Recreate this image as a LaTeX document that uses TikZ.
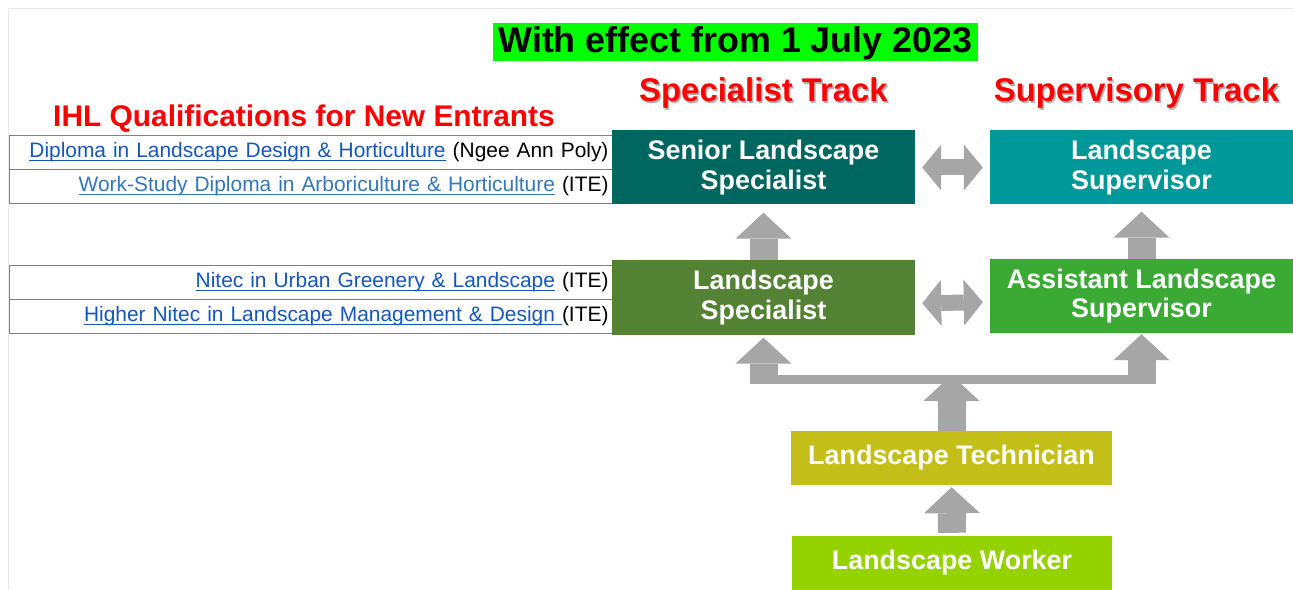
\documentclass[tikz,border=0pt]{standalone}
\usepackage{fontspec}
\setmainfont{Liberation Sans}
\usetikzlibrary{arrows.meta}

\definecolor{titlegreen}{RGB}{0,255,0}
\definecolor{trackred}{RGB}{255,0,0}
\definecolor{linkblue}{RGB}{20,88,190}
\definecolor{linkbluelight}{RGB}{52,120,186}
\definecolor{rowgray}{RGB}{128,128,128}
\definecolor{arrowgray}{RGB}{166,166,166}
\definecolor{slsteal}{RGB}{0,102,96}
\definecolor{lsupteal}{RGB}{0,152,152}
\definecolor{lspecgreen}{RGB}{84,130,53}
\definecolor{alsgreen}{RGB}{58,170,53}
\definecolor{techolive}{RGB}{196,190,24}
\definecolor{workergreen}{RGB}{148,210,0}

% underlined link text
\newcommand\lnk[2][linkblue]{{\color{#1}\setbox0\hbox{#2}\rlap{\rule[-3bp]{\wd0}{1.1bp}}\box0}}
% text with a soft shadow
\newcommand\shtext[1]{\rlap{\hspace{1.5bp}\raisebox{-1.5bp}{\color{black!30}#1}}#1}

\begin{document}
\begin{tikzpicture}[x=1bp, y=-1bp,
  box/.style={minimum width=303bp, minimum height=74bp, inner sep=0pt, align=center, text=white, font=\fontsize{27}{30}\selectfont\bfseries},
  row/.style={draw=rowgray, line width=1bp, anchor=north west, minimum height=34bp, text width=595bp, inner sep=4bp, align=right, font=\fontsize{21}{24}\selectfont},
  track/.style={anchor=base, text=trackred, font=\fontsize{33}{36}\selectfont\bfseries},
  blockup/.style={draw=arrowgray, line width=28bp, -{Triangle[width=56bp, length=26bp, line width=0pt 0]}},
  blockboth/.style={draw=arrowgray, line width=16bp, {Triangle[width=46bp, length=19bp, line width=0pt 0]}-{Triangle[width=46bp, length=19bp, line width=0pt 0]}, shorten <=7bp, shorten >=7bp}]
\useasboundingbox (0,0) rectangle (1293,590);
\fill[white] (0,0) rectangle (1293,590);
\draw[black!8, line width=1bp] (8,590) -- (8,9) -- (1293,9);

% Headings
\node[fill=titlegreen, minimum width=485bp, minimum height=38bp, inner sep=0pt, text height=26bp, text depth=4bp, font=\fontsize{36}{40}\selectfont\bfseries] (title) at (735.5,42) {With effect from 1 July 2023};
\node[track] (spectrack) at (763.5,102) {\shtext{Specialist Track}};
\node[track] (suptrack) at (1136.5,102) {\shtext{Supervisory Track}};
\node[anchor=base, text=trackred, font=\fontsize{30}{33}\selectfont\bfseries] (ihl) at (304,127) {IHL Qualifications for New Entrants};

% Qualifications
\node[row] (dip) at (9,135) {\lnk{Diploma in Landscape Design \& Horticulture} (Ngee Ann Poly)};
\node[row] (wsd) at (9,169) {\lnk[linkbluelight]{Work-Study Diploma in Arboriculture \& Horticulture} (ITE)};
\node[row] (nitec) at (9,265) {\lnk{Nitec in Urban Greenery \& Landscape} (ITE)};
\node[row] (hnitec) at (9,299) {\lnk{Higher Nitec in Landscape Management \& Design\ }(ITE)};

% Job roles
\node[box, fill=slsteal] (sls) at (763.5,167.5) {Senior Landscape\\Specialist};
\node[box, fill=lsupteal] (lsup) at (1141.5,167.5) {Landscape\\Supervisor};
\node[box, fill=lspecgreen] (lspec) at (763.5,297.5) {Landscape\\Specialist};
\node[box, fill=alsgreen] (als) at (1141.5,296) {Assistant Landscape\\Supervisor};
\node[box, fill=techolive, minimum width=321bp, minimum height=54bp] (tech) at (951.5,458) {Landscape Technician};
\node[box, fill=workergreen, minimum width=320bp, minimum height=54bp] (worker) at (952,563) {Landscape Worker};

% Progression arrows
\draw[blockup, shorten >=8bp] (lspec.north) -- (sls.south);
\draw[blockup, shorten >=7bp] (als.north) -- (lsup.south);
\draw[blockboth] (sls.east) -- (lsup.west);
\draw[blockboth] ([yshift=-6bp]lspec.east) -- ([yshift=-6bp]als.west);

\coordinate (fork) at (951.5,379.5);
\draw[arrowgray, line width=9bp] (lspec.south |- fork) -- (als.south |- fork);
\draw[blockup, shorten <=-4.5bp, shorten >=3bp] (lspec.south |- fork) -- (lspec.south);
\draw[blockup, shorten <=-4.5bp, shorten >=1bp] (als.south |- fork) -- (als.south);
\draw[blockup, shorten >=-4.5bp] (tech.north) -- (fork);
\draw[blockup, shorten <=3bp, shorten >=2bp] (worker.north) -- (tech.south);
\end{tikzpicture}
\end{document}
